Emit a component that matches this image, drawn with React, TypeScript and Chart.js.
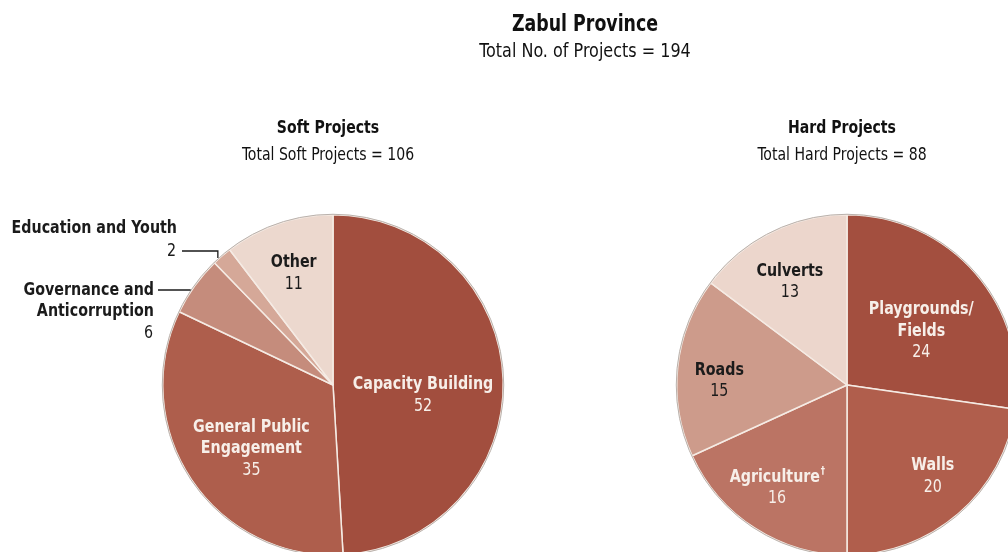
import React, { useEffect, useRef } from "react";
import { Chart, registerables } from "chart.js";

Chart.register(...registerables);

const FONT = "'DejaVu Sans Condensed', 'Liberation Sans Narrow', 'Noto Sans', sans-serif";

// ---------- data ----------
const pageTitle = "Zabul Province";
const pageSubtitle = "Total No. of Projects = 194";

const softTitle = "Soft Projects";
const softSubtitle = "Total Soft Projects = 106";
const softCategories = ["Capacity Building", "General Public Engagement", "Governance and Anticorruption", "Education and Youth", "Other"];
const softValues = [52, 35, 6, 2, 11];

const hardTitle = "Hard Projects";
const hardSubtitle = "Total Hard Projects = 88";
const hardCategories = ["Playgrounds/Fields", "Walls", "Agriculture†", "Roads", "Culverts"];
const hardValues = [24, 20, 16, 15, 13];

// ---------- styles ----------
const softColors = ["#a24e3e", "#ae5e4c", "#c58c7c", "#d5a898", "#ecd8ce"];
const hardColors = ["#a34f3f", "#b05e4c", "#bb7464", "#cd9b8b", "#ecd6cc"];
const softLabelLines = [["Capacity Building"], ["General Public", "Engagement"], ["Governance and", "Anticorruption"], ["Education and Youth"], ["Other"]];
const hardLabelLines = [["Playgrounds/", "Fields"], ["Walls"], ["Agriculture†"], ["Roads"], ["Culverts"]];
const softTextColors = ["#f7efe9", "#f7efe9", "#1b1b1b", "#1b1b1b", "#1b1b1b"];
const hardTextColors = ["#f7efe9", "#f7efe9", "#f7efe9", "#1b1b1b", "#1b1b1b"];
const softNudges = [[5, 13], [-11, 16], [0, 0], [0, 0], [-12, -31]];
const hardNudges = [[10, 2], [30, 27], [-24, 31], [-43, 5], [-19, -27]];
// outside labels: index -> placement relative to pie centre
const softOutside: Record<number, any> = {
  3: { rightX: -156, firstY: -157, lh: 23, elbow: true },
  2: { rightX: -179, firstY: -95, lh: 21.5, elbow: false },
};

const W = 1024;
const H = 560;
const LH = 21.5;
const SX = 0.88;

function drawLine(ctx: CanvasRenderingContext2D, text: string, x: number, y: number, align: CanvasTextAlign, bold: boolean, size: number, sx: number = SX) {
  ctx.save();
  ctx.translate(x, y);
  ctx.scale(sx, 1);
  ctx.font = `${bold ? "bold " : ""}${size}px ${FONT}`;
  ctx.textAlign = align;
  ctx.textBaseline = "middle";
  if (text.endsWith("†")) {
    const main = text.slice(0, -1);
    const mw = ctx.measureText(main).width;
    ctx.font = `${bold ? "bold " : ""}${size * 0.6}px ${FONT}`;
    const dw = ctx.measureText("†").width;
    let left = 0;
    if (align === "center") left = -(mw + dw) / 2;
    else if (align === "right") left = -mw - dw;
    ctx.textAlign = "left";
    ctx.fillText("†", left + mw + 1, -size * 0.3);
    ctx.font = `${bold ? "bold " : ""}${size}px ${FONT}`;
    ctx.fillText(main, left, 0);
  } else {
    ctx.fillText(text, 0, 0);
  }
  ctx.restore();
}

function makePlugin(cfg: any) {
  return {
    id: "customLabels",
    afterDatasetsDraw(chart: any) {
      const ctx: CanvasRenderingContext2D = chart.ctx;
      const meta = chart.getDatasetMeta(0);
      const arcs = meta.data;
      if (!arcs.length) return;
      const cx = arcs[0].x;
      const cy = arcs[0].y;
      const r = arcs[0].outerRadius;
      ctx.save();
      // outer outline
      ctx.beginPath();
      ctx.arc(cx, cy, r + 0.5, 0, Math.PI * 2);
      ctx.strokeStyle = "#b9b1ac";
      ctx.lineWidth = 1;
      ctx.stroke();

      // headers
      ctx.fillStyle = "#111";
      drawLine(ctx, cfg.title, cx - 5, cy - 256, "center", true, 17, 0.92);
      drawLine(ctx, cfg.subtitle, cx - 5, cy - 229, "center", false, 17, 0.92);
      if (cfg.page) {
        drawLine(ctx, pageTitle, 585, 25, "center", true, 23, 0.84);
        drawLine(ctx, pageSubtitle, 585, 52, "center", false, 20, 0.89);
      }

      const values: number[] = chart.data.datasets[0].data;
      arcs.forEach((arc: any, i: number) => {
        const lines: string[] = cfg.lines[i];
        const out = cfg.outside ? cfg.outside[i] : undefined;
        if (out) {
          ctx.fillStyle = "#1b1b1b";
          const x = cx + out.rightX;
          const y = cy + out.firstY;
          lines.forEach((t: string, k: number) => {
            drawLine(ctx, t, x, y + k * out.lh, "right", true, 18);
          });
          const vy = y + lines.length * out.lh;
          drawLine(ctx, String(values[i]), x - 1, vy, "right", false, 18);
          // leader
          const mid = (arc.startAngle + arc.endAngle) / 2;
          const ex = cx + Math.cos(mid) * r;
          const ey = cy + Math.sin(mid) * r;
          ctx.beginPath();
          ctx.strokeStyle = "#1a1a1a";
          ctx.lineWidth = 1.3;
          if (out.elbow) {
            ctx.moveTo(x + 5, vy);
            ctx.lineTo(ex - 4, vy);
            ctx.lineTo(ex - 4, ey + 2);
          } else {
            const dy = y - cy;
            const hx = cx - Math.sqrt(Math.max(r * r - dy * dy, 0));
            ctx.moveTo(x + 4, y);
            ctx.lineTo(hx - 1, y);
          }
          ctx.stroke();
          return;
        }
        const p = arc.tooltipPosition();
        const nd = cfg.nudges[i];
        const bx = p.x + nd[0];
        const by = p.y + nd[1];
        const n = lines.length + 1;
        const y0 = by - ((n - 1) * LH) / 2;
        ctx.fillStyle = cfg.textColors[i];
        lines.forEach((t: string, k: number) => drawLine(ctx, t, bx, y0 + k * LH, "center", true, 18));
        drawLine(ctx, String(values[i]), bx, y0 + lines.length * LH, "center", false, 18);
      });
      ctx.restore();
    },
  };
}

function PieCanvas(props: { categories: string[]; values: number[]; colors: string[]; pad: any; cfg: any }) {
  const ref = useRef<HTMLCanvasElement | null>(null);
  useEffect(() => {
    if (!ref.current) return;
    const chart = new Chart(ref.current, {
      type: "pie",
      data: {
        labels: props.categories,
        datasets: [
          {
            data: props.values,
            backgroundColor: props.colors,
            borderColor: "#f5ebe4",
            borderWidth: 1.5,
          },
        ],
      },
      options: {
        responsive: false,
        animation: false,
        layout: { padding: props.pad },
        plugins: { legend: { display: false }, tooltip: { enabled: false }, title: { display: false } },
      },
      plugins: [makePlugin(props.cfg)],
    });
    return () => chart.destroy();
  }, []);
  return <canvas ref={ref} width={W} height={H} style={{ position: "absolute", left: 0, top: 0, width: W, height: H }} />;
}

export default function App() {
  useEffect(() => {
    document.body.style.margin = "0";
  }, []);
  return (
    <div style={{ position: "fixed", left: 0, top: 0, width: 1008, height: 552, overflow: "hidden", background: "#fff" }}>
      <PieCanvas
        categories={softCategories}
        values={softValues}
        colors={softColors}
        pad={{ left: 162, top: 214, right: W - 504, bottom: H - 556 }}
        cfg={{ title: softTitle, subtitle: softSubtitle, lines: softLabelLines, textColors: softTextColors, nudges: softNudges, outside: softOutside, page: true }}
      />
      <PieCanvas
        categories={hardCategories}
        values={hardValues}
        colors={hardColors}
        pad={{ left: 676, top: 214, right: W - 1018, bottom: H - 556 }}
        cfg={{ title: hardTitle, subtitle: hardSubtitle, lines: hardLabelLines, textColors: hardTextColors, nudges: hardNudges, page: false }}
      />
    </div>
  );
}
